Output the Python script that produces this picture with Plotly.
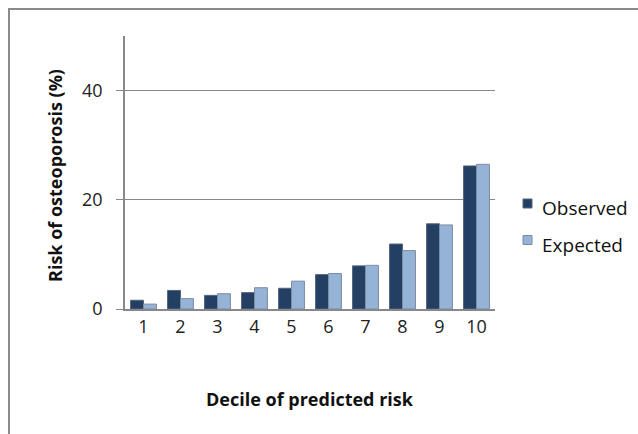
import plotly.graph_objects as go

deciles = ["1", "2", "3", "4", "5", "6", "7", "8", "9", "10"]
observed = [1.6, 3.4, 2.5, 3.0, 3.8, 6.3, 7.9, 11.9, 15.6, 26.2]
expected = [0.9, 1.9, 2.8, 3.9, 5.1, 6.5, 8.0, 10.7, 15.4, 26.5]
series_names = ["Observed", "Expected"]
series_colors = ["#243F64", "#95B3D7"]
series_edges = ["#56657a", "#7d8ca2"]
y_ticks = [0, 20, 40]

W, H = 638, 434
L, R, T, B = 125, 143, 36, 125
pw, ph = W - L - R, H - T - B

def px(x):
    return (x - L) / pw

def py(y):
    return (H - B - y) / ph

font_family = "Open Sans, Noto Sans, sans-serif"

fig = go.Figure()
for name, vals, col, edge in zip(series_names, [observed, expected],
                                 series_colors, series_edges):
    fig.add_trace(go.Bar(
        x=deciles, y=vals, name=name, showlegend=False,
        marker=dict(color=col, line=dict(color=edge, width=1)),
    ))

# key drawn beside the plot: swatch plus label per series
for i, (name, col, edge) in enumerate(zip(series_names, series_colors, series_edges)):
    top = 199 + i * 36.5
    fig.add_shape(
        type="rect", xref="paper", yref="paper",
        x0=px(523), x1=px(532), y0=py(top + 9), y1=py(top),
        fillcolor=col, line=dict(color=edge, width=1),
    )
    fig.add_annotation(
        text=name, xref="paper", yref="paper",
        x=px(540), y=py(top + 9), xanchor="left", yanchor="middle",
        showarrow=False, font=dict(size=19, color="#111111", family=font_family),
    )

# outer frame (left and top edges)
fig.add_shape(
    type="path", xref="paper", yref="paper",
    path=f"M {px(9)} {py(436)} L {px(9)} {py(9)} L {px(640)} {py(9)}",
    line=dict(color="#8a8a8a", width=2),
)

fig.add_annotation(
    text="<b>Risk of osteoporosis (%)</b>", textangle=-90,
    xref="paper", yref="paper", x=px(55), y=py(176),
    xanchor="center", yanchor="middle",
    showarrow=False, font=dict(size=18, color="#111111", family=font_family),
)
fig.add_annotation(
    text="<b>Decile of predicted risk</b>",
    xref="paper", yref="paper", x=px(310), y=py(399),
    xanchor="center", yanchor="middle",
    showarrow=False, font=dict(size=18, color="#111111", family=font_family),
)

fig.update_layout(
    width=W, height=H,
    margin=dict(l=L, r=R, t=T, b=B),
    paper_bgcolor="white", plot_bgcolor="white",
    barmode="group", bargap=0.3, bargroupgap=0.0,
    font=dict(family=font_family, size=18, color="#222222"),
    showlegend=False,
    xaxis=dict(
        showline=True, linecolor="#888888", linewidth=1.5,
        ticks="", showgrid=False, tickfont=dict(size=18),
        ticklabelstandoff=1,
    ),
    yaxis=dict(
        range=[0, 50], tickvals=y_ticks,
        showline=True, linecolor="#888888", linewidth=1.5,
        ticks="outside", ticklen=7, tickcolor="#888888",
        showgrid=True, gridcolor="#888888", gridwidth=1,
        zeroline=False, tickfont=dict(size=18),
        ticklabelstandoff=10,
    ),
)

fig.write_html("out.html")
